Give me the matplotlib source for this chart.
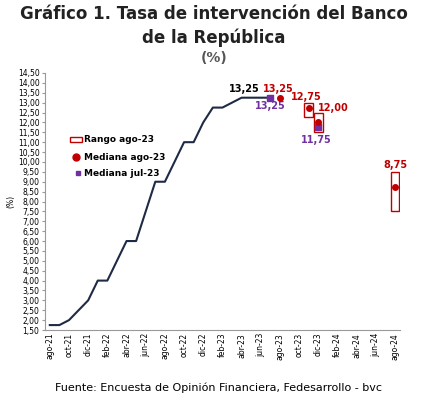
import matplotlib
matplotlib.use("Agg")
import matplotlib.pyplot as plt
from matplotlib.patches import Rectangle
from matplotlib.lines import Line2D

months = ["ago-21","sep-21","oct-21","nov-21","dic-21","ene-22","feb-22","mar-22","abr-22","may-22",
          "jun-22","jul-22","ago-22","sep-22","oct-22","nov-22","dic-22","ene-23","feb-23","mar-23",
          "abr-23","may-23","jun-23","jul-23","ago-23","sep-23","oct-23","nov-23","dic-23","ene-24",
          "feb-24","mar-24","abr-24","may-24","jun-24","jul-24","ago-24"]
rate = [1.75,1.75,2.0,2.5,3.0,4.0,4.0,5.0,6.0,6.0,7.5,9.0,9.0,10.0,11.0,11.0,12.0,12.75,12.75,13.0,
        13.25,13.25,13.25,13.25]
med_ago_x = ["ago-23","nov-23","dic-23","ago-24"]
med_ago = [13.25,12.75,12.00,8.75]
rng_x = ["nov-23","dic-23","ago-24"]
rng_lo = [12.25,11.5,7.5]
rng_hi = [13.0,12.5,9.5]
med_jul_x = ["jul-23","dic-23"]
med_jul = [13.25,11.75]

RED = "#c00000"; PUR = "#7030a0"; NAVY = "#1f2a44"
idx = {m:i for i,m in enumerate(months)}

fig = plt.figure(figsize=(4.37,4.01), dpi=100)
ax = fig.add_axes([0.103,0.177,0.812,0.641])
ax.plot(range(len(rate)), rate, color=NAVY, lw=1.5, zorder=2)
for m,lo,hi in zip(rng_x,rng_lo,rng_hi):
    ax.add_patch(Rectangle((idx[m]-0.45,lo),0.9,hi-lo,fill=False,ec=RED,lw=1,zorder=3))
ax.scatter([idx[m] for m in med_jul_x], med_jul, marker="s", s=22, color=PUR, zorder=4)
ax.scatter([idx[m] for m in med_ago_x], med_ago, marker="o", s=16, color=RED, zorder=5)

kw = dict(fontsize=7, fontweight="bold", ha="center")
ax.text(20.3,13.55,"13,25",color="black",**kw)
ax.text(idx["ago-23"]-0.2,13.55,"13,25",color=RED,**kw)
ax.text(idx["jul-23"],12.7,"13,25",color=PUR,**kw)
ax.text(idx["nov-23"]-0.3,13.15,"12,75",color=RED,**kw)
ax.text(idx["dic-23"]+1.6,12.6,"12,00",color=RED,**kw)
ax.text(idx["dic-23"]-0.2,10.95,"11,75",color=PUR,**kw)
ax.text(idx["ago-24"],9.7,"8,75",color=RED,**kw)

ax.set_xlim(-0.5,36.5)
ax.set_ylim(1.5,14.5)
yt = [1.5+0.5*i for i in range(27)]
ax.set_yticks(yt)
ax.set_yticklabels([f"{v:.2f}".replace(".",",") for v in yt], fontsize=5.5)
ax.set_xticks(range(0,37,2))
ax.set_xticklabels(months[::2], rotation=90, fontsize=5.5)
for s in ["top","right"]:
    ax.spines[s].set_visible(False)
for s in ["left","bottom"]:
    ax.spines[s].set_color("#999999")
ax.tick_params(axis="both", length=2, color="#999999", pad=2)
ax.tick_params(axis="x", length=0)
ax.set_ylabel("(%)", fontsize=5.5, labelpad=2)

# legend
ax.add_patch(Rectangle((0.07,0.73),0.035,0.022,transform=ax.transAxes,fill=False,ec=RED,lw=1))
ax.text(0.11,0.741,"Rango ago-23",transform=ax.transAxes,fontsize=6.5,fontweight="bold",va="center")
ax.add_line(Line2D([0.088],[0.672],transform=ax.transAxes,marker="o",ms=5,color=RED))
ax.text(0.11,0.672,"Mediana ago-23",transform=ax.transAxes,fontsize=6.5,fontweight="bold",va="center")
ax.add_line(Line2D([0.092],[0.61],transform=ax.transAxes,marker="s",ms=3.5,color=PUR))
ax.text(0.11,0.61,"Mediana jul-23",transform=ax.transAxes,fontsize=6.5,fontweight="bold",va="center")

fig.text(0.49,0.965,"Gráfico 1. Tasa de intervención del Banco",ha="center",va="center",fontsize=12,fontweight="bold",color="#222222")
fig.text(0.49,0.905,"de la República",ha="center",va="center",fontsize=12,fontweight="bold",color="#222222")
fig.text(0.49,0.855,"(%)",ha="center",va="center",fontsize=10,fontweight="bold",color="#555555")
fig.text(0.5,0.032,"Fuente: Encuesta de Opinión Financiera, Fedesarrollo - bvc",ha="center",va="center",fontsize=8)
fig.savefig("out.png", dpi=100, facecolor="white")
